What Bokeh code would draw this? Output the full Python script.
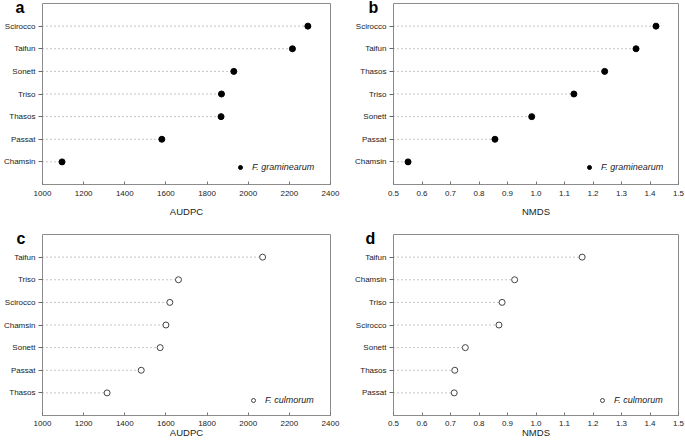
from bokeh.plotting import figure
from bokeh.layouts import column, row
from bokeh.models import (Range1d, FactorRange, FixedTicker, PrintfTickFormatter,
                          Legend, LegendItem)
from bokeh.embed import file_html
from bokeh.resources import INLINE

FONT = "Liberation Sans"

# ---- data (categories listed bottom -> top) ----
A_CULTIVARS = ["Chamsin", "Passat", "Thasos", "Triso", "Sonett", "Taifun", "Scirocco"]
A_AUDPC = [1095, 1580, 1868, 1870, 1930, 2215, 2290]

B_CULTIVARS = ["Chamsin", "Passat", "Sonett", "Triso", "Thasos", "Taifun", "Scirocco"]
B_NMDS = [0.551, 0.856, 0.985, 1.133, 1.241, 1.351, 1.421]

C_CULTIVARS = ["Thasos", "Passat", "Sonett", "Chamsin", "Scirocco", "Triso", "Taifun"]
C_AUDPC = [1314, 1480, 1572, 1600, 1619, 1661, 2070]

D_CULTIVARS = ["Passat", "Thasos", "Sonett", "Scirocco", "Triso", "Chamsin", "Taifun"]
D_NMDS = [0.713, 0.715, 0.752, 0.870, 0.881, 0.925, 1.162]

AUDPC_TICKS = [1000, 1200, 1400, 1600, 1800, 2000, 2200, 2400]
NMDS_TICKS = [0.5, 0.6, 0.7, 0.8, 0.9, 1.0, 1.1, 1.2, 1.3, 1.4, 1.5]

SPECIES_TOP = "F. graminearum"
SPECIES_BOTTOM = "F. culmorum"

FRAME_H = 181


def panel(letter, cats, vals, ticks, fmt, xlabel, filled, species, leg_frac, leg_y,
          frame_w, mb_left, mb_right, mb_top, mb_bottom, tick_standoff, label_standoff,
          letter_dx):
    xr = Range1d(ticks[0], ticks[-1])
    yr = FactorRange(factors=cats, range_padding=0.5, range_padding_units="absolute")
    p = figure(frame_width=frame_w, frame_height=FRAME_H, x_range=xr, y_range=yr,
               output_backend="svg", toolbar_location=None,
               min_border_left=mb_left, min_border_right=mb_right,
               min_border_top=mb_top, min_border_bottom=mb_bottom,
               title=letter, title_location="above")
    p.grid.visible = False
    p.outline_line_color = "#8c8c8c"
    p.outline_line_width = 1
    p.background_fill_color = "white"
    p.border_fill_color = "white"

    # panel letter drawn as the figure title, pulled down beside the frame's top edge
    p.title.text_font = FONT
    p.title.text_font_size = "16px"
    p.title.text_font_style = "bold"
    p.title.text_color = "black"
    p.title.align = "left"
    p.title.vertical_align = "bottom"
    p.title.offset = letter_dx
    p.title.standoff = -24

    p.segment(x0=[ticks[0]] * len(vals), y0=cats, x1=vals, y1=cats,
              line_color="#8a8a8a", line_width=1, line_dash="1 3")
    if filled:
        r = p.scatter(vals, cats, marker="circle", size=6,
                      fill_color="black", line_color="black")
    else:
        r = p.scatter(vals, cats, marker="circle", size=6,
                      fill_color="white", line_color="#444444", line_width=1)

    xa = p.xaxis[0]
    xa.ticker = FixedTicker(ticks=ticks)
    xa.formatter = PrintfTickFormatter(format=fmt)
    xa.minor_tick_line_color = None
    xa.major_tick_in = 3
    xa.major_tick_out = 0
    xa.major_tick_line_color = "#777777"
    xa.axis_line_color = "#8c8c8c"
    xa.major_label_text_font = FONT
    xa.major_label_text_font_size = "8px"
    xa.major_label_text_color = "#222222"
    xa.major_label_standoff = tick_standoff
    xa.axis_label = xlabel
    xa.axis_label_text_font = FONT
    xa.axis_label_text_font_size = "9.5px"
    xa.axis_label_text_font_style = "normal"
    xa.axis_label_text_color = "#222222"
    xa.axis_label_standoff = label_standoff

    ya = p.yaxis[0]
    ya.axis_line_color = None
    ya.major_tick_in = 0
    ya.major_tick_out = 4
    ya.major_tick_line_color = "#666666"
    ya.major_label_text_font = FONT
    ya.major_label_text_font_size = "8px"
    ya.major_label_text_color = "#222222"
    ya.major_label_standoff = 3

    legend = Legend(items=[LegendItem(label=species, renderers=[r])],
                    location=(int(leg_frac * frame_w) - 8, leg_y),
                    border_line_color=None, background_fill_alpha=0,
                    padding=0, margin=0, spacing=0,
                    glyph_width=10, glyph_height=10, label_height=10,
                    label_standoff=7,
                    label_text_font=FONT, label_text_font_size="9px",
                    label_text_font_style="italic", label_text_color="#222222")
    p.add_layout(legend)
    return p


pa = panel("a", A_CULTIVARS, A_AUDPC, AUDPC_TICKS, "%d", "AUDPC", True, SPECIES_TOP,
           0.698, 12, 288, 39, 10, 3, 44, 6, 7, -27)
pb = panel("b", B_CULTIVARS, B_NMDS, NMDS_TICKS, "%.1f", "NMDS", True, SPECIES_TOP,
           0.699, 12, 285, 53, 10, 3, 44, 6, 7, -25)
pc = panel("c", C_CULTIVARS, C_AUDPC, AUDPC_TICKS, "%d", "AUDPC", False, SPECIES_BOTTOM,
           0.745, 10, 288, 39, 10, 6, 32, 5, -2, -26)
pd = panel("d", D_CULTIVARS, D_NMDS, NMDS_TICKS, "%.1f", "NMDS", False, SPECIES_BOTTOM,
           0.744, 10, 285, 53, 10, 6, 32, 5, -2, -28)

layout = column(row(pa, pb), row(pc, pd))

open("out.html", "w").write(file_html(layout, INLINE))
